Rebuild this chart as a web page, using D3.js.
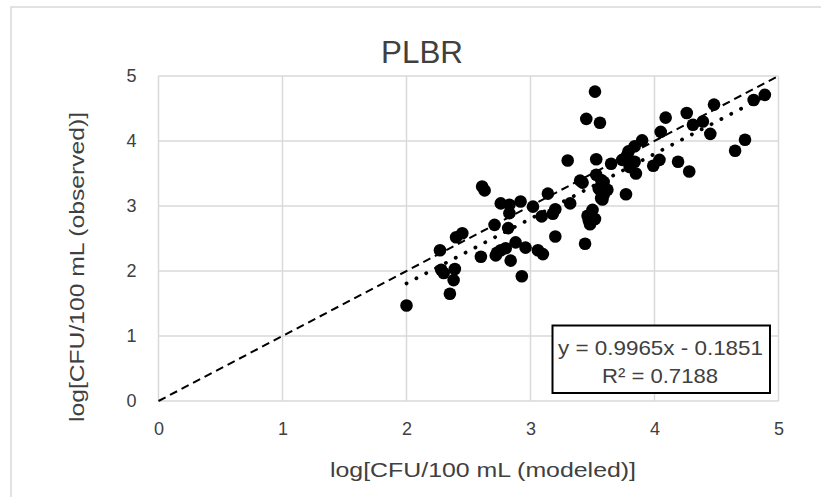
<!DOCTYPE html>
<html>
<head>
<meta charset="utf-8">
<title>PLBR</title>
<script src="https://cdn.jsdelivr.net/npm/d3@7/dist/d3.min.js"></script>
<style>
  body { margin: 0; background: #fff; }
  svg text { font-family: "Liberation Sans", Arial, sans-serif; fill: #404040; }
</style>
</head>
<body>
<div id="chart"></div>
<script>
// data: modeled (x) vs observed (y), log CFU/100 mL
var modeled = [
  2.00, 2.35, 2.38, 2.28, 2.30, 2.39, 2.27, 2.40, 2.45, 2.60,
  2.61, 2.63, 2.71, 2.73, 2.72, 2.76, 2.80, 2.82, 2.76, 2.83,
  2.83, 2.84, 2.88, 2.92, 2.93, 2.96, 3.02, 3.06, 3.10, 3.09,
  3.14, 3.18, 3.20, 3.20, 3.30, 3.32, 3.40, 3.42, 3.44, 3.45,
  3.46, 3.47, 3.48, 3.50, 3.52, 3.52, 3.56, 3.53, 3.53, 3.55,
  3.57, 3.58, 3.59, 3.62, 3.65, 3.59, 3.56, 3.57, 3.77, 3.74,
  3.78, 3.79, 3.84, 3.84, 3.85, 3.80, 3.90, 3.99, 4.04, 4.05,
  4.09, 4.19, 4.26, 4.28, 4.31, 4.39, 4.45, 4.48, 4.65, 4.73,
  4.80, 4.89
];
var observed = [
  1.47, 1.65, 1.86, 2.02, 1.97, 2.03, 2.32, 2.52, 2.58, 2.22,
  3.30, 3.24, 2.71, 2.28, 2.24, 2.32, 2.35, 2.66, 3.04, 3.02,
  2.89, 2.16, 2.44, 3.07, 1.92, 2.36, 2.99, 2.32, 2.26, 2.84,
  3.19, 2.88, 2.95, 2.53, 3.70, 3.04, 3.39, 3.36, 2.42, 4.34,
  2.85, 2.78, 2.72, 2.94, 2.80, 4.76, 4.28, 3.72, 3.48, 3.27,
  3.40, 3.10, 3.37, 3.25, 3.65, 3.17, 3.25, 3.12, 3.18, 3.71,
  3.78, 3.84, 3.92, 3.68, 3.50, 3.60, 4.01, 3.62, 3.71, 4.14,
  4.36, 3.68, 4.43, 3.53, 4.25, 4.30, 4.11, 4.56, 3.85, 4.02,
  4.63, 4.71
];
var tickValues = [0, 1, 2, 3, 4, 5];
var slope = 0.9965, intercept = -0.1851;
var eqLabel = "y = 0.9965x - 0.1851";
var r2Label = "R\u00b2 = 0.7188";

var W = 821, H = 497;
var svg = d3.select("#chart").append("svg")
    .attr("width", W).attr("height", H);

// outer chart frame (runs off the right and bottom edges)
svg.append("rect")
    .attr("x", 11).attr("y", 7)
    .attr("width", 830).attr("height", 520)
    .attr("fill", "#fff")
    .attr("stroke", "#d9d9d9").attr("stroke-width", 1.5);

var x = d3.scaleLinear().domain([0, 5]).range([158.5, 778.5]);
var y = d3.scaleLinear().domain([0, 5]).range([401, 76]);

// gridlines
svg.append("g").selectAll("line.vg")
    .data(tickValues).enter().append("line")
    .attr("x1", function(d) { return x(d); }).attr("x2", function(d) { return x(d); })
    .attr("y1", y(0)).attr("y2", y(5))
    .attr("stroke", "#d9d9d9").attr("stroke-width", 1.5);
svg.append("g").selectAll("line.hg")
    .data(tickValues).enter().append("line")
    .attr("y1", function(d) { return y(d); }).attr("y2", function(d) { return y(d); })
    .attr("x1", x(0)).attr("x2", x(5))
    .attr("stroke", "#d9d9d9").attr("stroke-width", 1.5);

// axes (labels only, lines hidden)
var xAxis = svg.append("g")
    .attr("transform", "translate(0," + y(0) + ")")
    .call(d3.axisBottom(x).tickValues(tickValues).tickSize(0).tickPadding(21).tickFormat(d3.format("d")));
var yAxis = svg.append("g")
    .attr("transform", "translate(" + x(0) + ",0)")
    .call(d3.axisLeft(y).tickValues(tickValues).tickSize(0).tickPadding(22).tickFormat(d3.format("d")));
[xAxis, yAxis].forEach(function(a) {
  a.select(".domain").remove();
  a.selectAll("text")
    .attr("font-family", "'Liberation Sans', Arial, sans-serif")
    .attr("font-size", 18).attr("fill", "#404040");
});

// 1:1 line
svg.append("line")
    .attr("x1", x(0)).attr("y1", y(0))
    .attr("x2", x(5)).attr("y2", y(5))
    .attr("stroke", "#000").attr("stroke-width", 2)
    .attr("stroke-dasharray", "8,5");

// points
svg.append("g").selectAll("circle")
    .data(modeled).enter().append("circle")
    .attr("cx", function(d) { return x(d); })
    .attr("cy", function(d, i) { return y(observed[i]); })
    .attr("r", 6.3)
    .attr("fill", "#000");

// linear trendline (round dots)
var xmin = d3.min(modeled), xmax = d3.max(modeled);
svg.append("line")
    .attr("x1", x(xmin)).attr("y1", y(slope * xmin + intercept))
    .attr("x2", x(xmax)).attr("y2", y(slope * xmax + intercept))
    .attr("stroke", "#000").attr("stroke-width", 3.8)
    .attr("stroke-linecap", "round")
    .attr("stroke-dasharray", "0.1,11");

// equation box
svg.append("rect")
    .attr("x", 552.5).attr("y", 325.5)
    .attr("width", 217.5).attr("height", 67.5)
    .attr("fill", "#fff").attr("stroke", "#000").attr("stroke-width", 2);
svg.append("text")
    .attr("x", 660.5).attr("y", 355)
    .attr("text-anchor", "middle")
    .attr("font-size", 21)
    .attr("textLength", 205).attr("lengthAdjust", "spacingAndGlyphs")
    .text(eqLabel);
svg.append("text")
    .attr("x", 660).attr("y", 383)
    .attr("text-anchor", "middle")
    .attr("font-size", 21)
    .attr("textLength", 116).attr("lengthAdjust", "spacingAndGlyphs")
    .text(r2Label);

// title
svg.append("text")
    .attr("x", 422).attr("y", 63)
    .attr("text-anchor", "middle")
    .attr("font-size", 32)
    .attr("textLength", 82).attr("lengthAdjust", "spacingAndGlyphs")
    .text("PLBR");

// axis titles
svg.append("text")
    .attr("x", 483).attr("y", 477)
    .attr("text-anchor", "middle")
    .attr("font-size", 21)
    .attr("textLength", 306).attr("lengthAdjust", "spacingAndGlyphs")
    .text("log[CFU/100 mL (modeled)]");
svg.append("text")
    .attr("transform", "translate(84,267) rotate(-90)")
    .attr("text-anchor", "middle")
    .attr("font-size", 21)
    .attr("textLength", 310).attr("lengthAdjust", "spacingAndGlyphs")
    .text("log[CFU/100 mL (observed)]");
</script>
</body>
</html>
